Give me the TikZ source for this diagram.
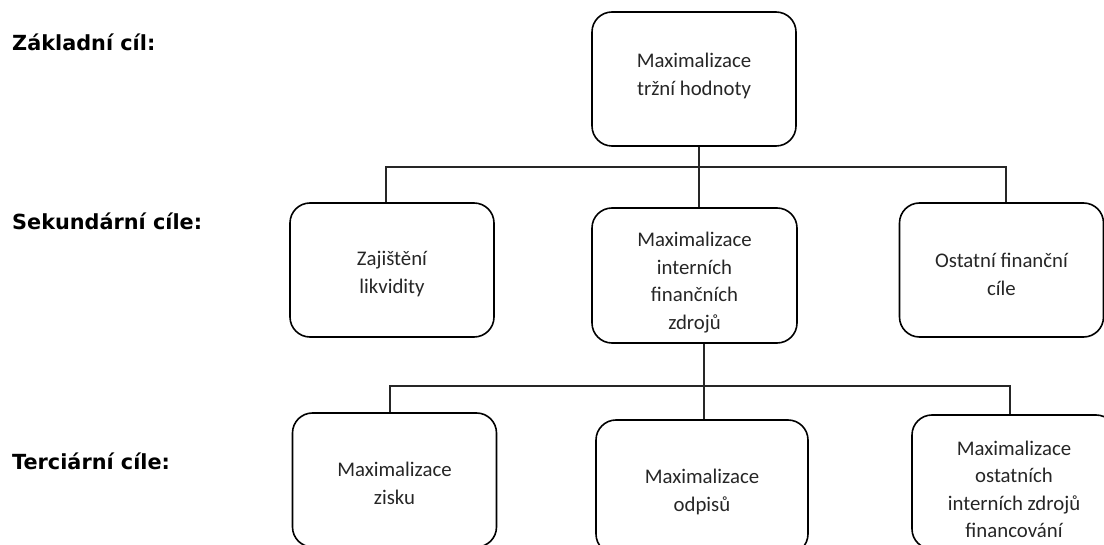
\documentclass[tikz,border=0pt]{standalone}
\usepackage{fontspec}
\setmainfont{Carlito}
\newfontfamily\labfont{DejaVu Sans}
\newcommand{\lowtext}[2]{\raisebox{-#1}[\height][\depth]{\begin{tabular}{@{}c@{}}#2\end{tabular}}}
\begin{document}
\begin{tikzpicture}[x=1pt,y=-1pt,
  goal/.style={draw, line width=1.6pt, rounded corners=20pt, minimum width=204pt,
    minimum height=134pt, inner sep=0pt,
    font=\fontsize{20.8}{27.5}\selectfont, text=black!85},
  lvl/.style={anchor=west, inner sep=0pt, font=\labfont\bfseries\fontsize{20.8}{24}\selectfont},
  conn/.style={line width=1.3pt, draw=black!85}]
\useasboundingbox (0,0) rectangle (1104,545);
\clip (0,0) rectangle (1104,545);
% level labels
\node[lvl] (l1) at (12,42) {Základní cíl:};
\node[lvl] (l2) at (12,221) {Sekundární cíle:};
\node[lvl] (l3) at (12,461) {Terciární cíle:};
% boxes
\node[goal] (top) at (694,79) {\lowtext{-3pt}{Maximalizace\\tržní hodnoty}};
\node[goal] (lsec) at (392,270) {\lowtext{4pt}{Zajištění\\likvidity}};
\node[goal, minimum height=135pt, minimum width=205pt] (csec) at (694.5,275.5) {\lowtext{7pt}{Maximalizace\\interních\\finančních\\zdrojů}};
\node[goal] (rsec) at (1001.5,270) {\lowtext{6pt}{Ostatní finanční\\cíle}};
\node[goal] (lter) at (394.5,480) {\lowtext{5pt}{Maximalizace\\zisku}};
\node[goal, minimum width=212pt] (cter) at (702,487) {\lowtext{5pt}{Maximalizace\\odpisů}};
\node[goal] (rter) at (1014,482) {\lowtext{9pt}{Maximalizace\\ostatních\\interních zdrojů\\financování}};
% bus coordinates
\coordinate (b1L) at (386,167);
\coordinate (b1C) at (699,167);
\coordinate (b1R) at (1006,167);
\coordinate (b2L) at (390,386);
\coordinate (b2C) at (704,386);
\coordinate (b2R) at (1010,386);
% connectors
\draw[conn] (b1L |- lsec.north) -- (b1L) -- (b1R) -- (b1R |- rsec.north);
\draw[conn] (top.south -| b1C) -- (b1C |- csec.north);
\draw[conn] (b2L |- lter.north) -- (b2L) -- (b2R) -- (b2R |- rter.north);
\draw[conn] (csec.south -| b2C) -- (b2C |- cter.north);
\end{tikzpicture}
\end{document}
